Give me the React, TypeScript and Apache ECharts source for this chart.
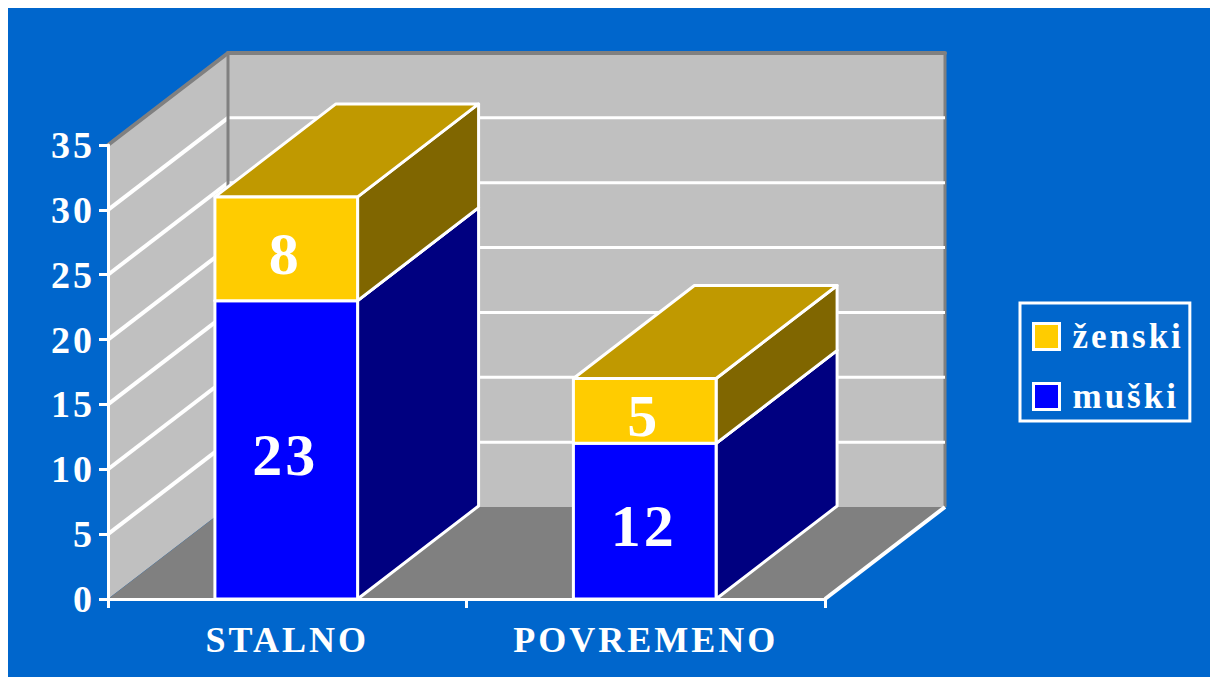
import React, { useEffect, useRef } from "react";
import * as echarts from "echarts";

const categories = ["STALNO", "POVREMENO"];
const muski = [23, 12];
const zenski = [8, 5];
const yTicks = [5, 10, 15, 20, 25, 30];
const yMax = 35;

const FONT = "'Liberation Serif', 'Times New Roman', serif";
const BG = "#0066CC";
const WALL = "#C0C0C0";
const FLOOR = "#808080";
const WHITE = "#FFFFFF";
const DX = 120;
const DY = -92;
const BDX = 121;
const BDY = -93;

const back = (p: number[]) => [p[0] + DX, p[1] + DY];

function wallsItem(params: any, api: any) {
  const size = api.size([1, 0])[0];
  const n = categories.length;
  const o = api.coord([0, 0]);
  const a = [o[0] - size / 2, o[1]];
  const b = [a[0] + size * n, o[1]];
  const top = api.coord([0, yMax]);
  const at = [a[0], top[1]];
  const bt = [b[0], top[1]];
  const gray = { stroke: FLOOR, lineWidth: 4, lineCap: "round" };
  return {
    type: "group",
    children: [
      { type: "polygon", shape: { points: [a, back(a), back(at), at] }, style: { fill: WALL } },
      { type: "polygon", shape: { points: [back(a), back(b), back(bt), back(at)] }, style: { fill: WALL } },
      { type: "polygon", shape: { points: [a, b, back(b), back(a)] }, style: { fill: FLOOR } },
      { type: "line", shape: { x1: at[0], y1: at[1], x2: back(at)[0], y2: back(at)[1] }, style: gray },
      { type: "line", shape: { x1: back(at)[0], y1: back(at)[1], x2: back(bt)[0], y2: back(bt)[1] }, style: gray },
      { type: "line", shape: { x1: back(bt)[0], y1: back(bt)[1], x2: back(b)[0], y2: back(b)[1] }, style: { stroke: FLOOR, lineWidth: 3 } },
      { type: "line", shape: { x1: b[0], y1: b[1], x2: back(b)[0], y2: back(b)[1] }, style: { stroke: WHITE, lineWidth: 4 } },
    ],
  };
}

function gridItem(params: any, api: any) {
  const size = api.size([1, 0])[0];
  const p = api.coord([0, api.value(0)]);
  const l = [p[0] - size / 2, p[1]];
  const r = [l[0] + size * categories.length, p[1]];
  const line = { stroke: WHITE, lineWidth: 4 };
  return {
    type: "group",
    children: [
      { type: "line", shape: { x1: l[0], y1: l[1], x2: back(l)[0], y2: back(l)[1] }, style: line },
      { type: "line", shape: { x1: back(l)[0], y1: back(l)[1], x2: back(r)[0], y2: back(r)[1] }, style: { ...line, lineWidth: 3 } },
    ],
  };
}

function cornerItem(params: any, api: any) {
  const size = api.size([1, 0])[0];
  const o = api.coord([0, 0]);
  const top = api.coord([0, yMax]);
  const a = back([o[0] - size / 2, o[1]]);
  const t = back([o[0] - size / 2, top[1]]);
  return {
    type: "line",
    shape: { x1: a[0], y1: a[1], x2: t[0], y2: t[1] },
    style: { stroke: FLOOR, lineWidth: 3 },
  };
}

function barRenderer(front: string, side: string, topFace: string) {
  return (params: any, api: any) => {
    const idx = api.value(0);
    const base = api.value(1);
    const value = api.value(2);
    const w = api.size([1, 0])[0] * 0.398;
    const lo = api.coord([idx, base]);
    const hi = api.coord([idx, base + value]);
    const x0 = lo[0] - w / 2 - 1;
    const x1 = lo[0] + w / 2 - 1;
    const stroke = { stroke: WHITE, lineWidth: 3, lineJoin: "round" };
    return {
      type: "group",
      children: [
        {
          type: "polygon",
          shape: { points: [[x1, lo[1]], [x1 + BDX, lo[1] + BDY], [x1 + BDX, hi[1] + BDY], [x1, hi[1]]] },
          style: { fill: side, ...stroke },
        },
        {
          type: "polygon",
          shape: { points: [[x0, hi[1]], [x1, hi[1]], [x1 + BDX, hi[1] + BDY], [x0 + BDX, hi[1] + BDY]] },
          style: { fill: topFace, ...stroke },
        },
        {
          type: "rect",
          shape: { x: x0, y: hi[1], width: x1 - x0, height: lo[1] - hi[1] },
          style: { fill: front, ...stroke },
        },
        {
          type: "text",
          style: {
            text: String(value),
            x: (x0 + x1) / 2 - 1,
            y: (lo[1] + hi[1]) / 2 + 5,
            fill: WHITE,
            font: `bold 60px ${FONT}`,
            textAlign: "center",
            textVerticalAlign: "middle",
          },
        },
      ],
    };
  };
}

export default function App() {
  const ref = useRef<HTMLDivElement>(null);
  useEffect(() => {
    const chart = echarts.init(ref.current!, undefined, { renderer: "svg" });
    chart.setOption({
      animation: false,
      backgroundColor: BG,
      grid: { left: 100, top: 137, width: 717, height: 454 },
      legend: {
        orient: "vertical",
        left: 1012,
        top: 295,
        data: ["ženski", "muški"],
        icon: "rect",
        itemWidth: 26,
        itemHeight: 26,
        itemGap: 25,
        padding: [16, 24, 7, 12],
        borderColor: WHITE,
        borderWidth: 3,
        itemStyle: { borderColor: WHITE, borderWidth: 3 },
        textStyle: { color: WHITE, fontFamily: FONT, fontWeight: "bold", fontSize: 35, padding: [0, 0, 0, 8] },
      },
      xAxis: {
        type: "category",
        data: categories,
        z: 10,
        axisLine: { lineStyle: { color: WHITE, width: 3 } },
        axisTick: { show: true, length: 9, lineStyle: { color: WHITE, width: 3 } },
        axisLabel: { color: WHITE, fontFamily: FONT, fontWeight: "bold", fontSize: 36, margin: 23 },
      },
      yAxis: {
        type: "value",
        min: 0,
        max: yMax,
        interval: 5,
        z: 10,
        splitLine: { show: false },
        axisLine: { show: true, lineStyle: { color: WHITE, width: 3 } },
        axisTick: { show: true, length: 9, lineStyle: { color: WHITE, width: 3 } },
        axisLabel: { color: WHITE, fontFamily: FONT, fontWeight: "bold", fontSize: 38, margin: 13 },
      },
      series: [
        { type: "custom", name: "walls", silent: true, z: 1, renderItem: wallsItem, encode: { x: 0, y: 1 }, data: [[0, 0]] },
        { type: "custom", name: "grid", silent: true, z: 2, renderItem: gridItem, encode: { y: 0 }, data: yTicks.map((t) => [t]) },
        { type: "custom", name: "corner", silent: true, z: 2.5, renderItem: cornerItem, encode: { x: 0, y: 1 }, data: [[0, 0]] },
        {
          type: "custom",
          name: "muški",
          z: 3,
          itemStyle: { color: "#0000FF" },
          renderItem: barRenderer("#0000FF", "#000080", "#000080"),
          encode: { x: 0, y: 2 },
          data: muski.map((v, i) => [i, 0, v]),
        },
        {
          type: "custom",
          name: "ženski",
          z: 4,
          itemStyle: { color: "#FFCC00" },
          renderItem: barRenderer("#FFCC00", "#806600", "#C09900"),
          encode: { x: 0, y: 2 },
          data: zenski.map((v, i) => [i, muski[i], v]),
        },
      ],
    });
    return () => chart.dispose();
  }, []);
  return (
    <div
      ref={ref}
      style={{ position: "absolute", left: 8, top: 8, width: 1202, height: 669, letterSpacing: "3px" }}
    />
  );
}
